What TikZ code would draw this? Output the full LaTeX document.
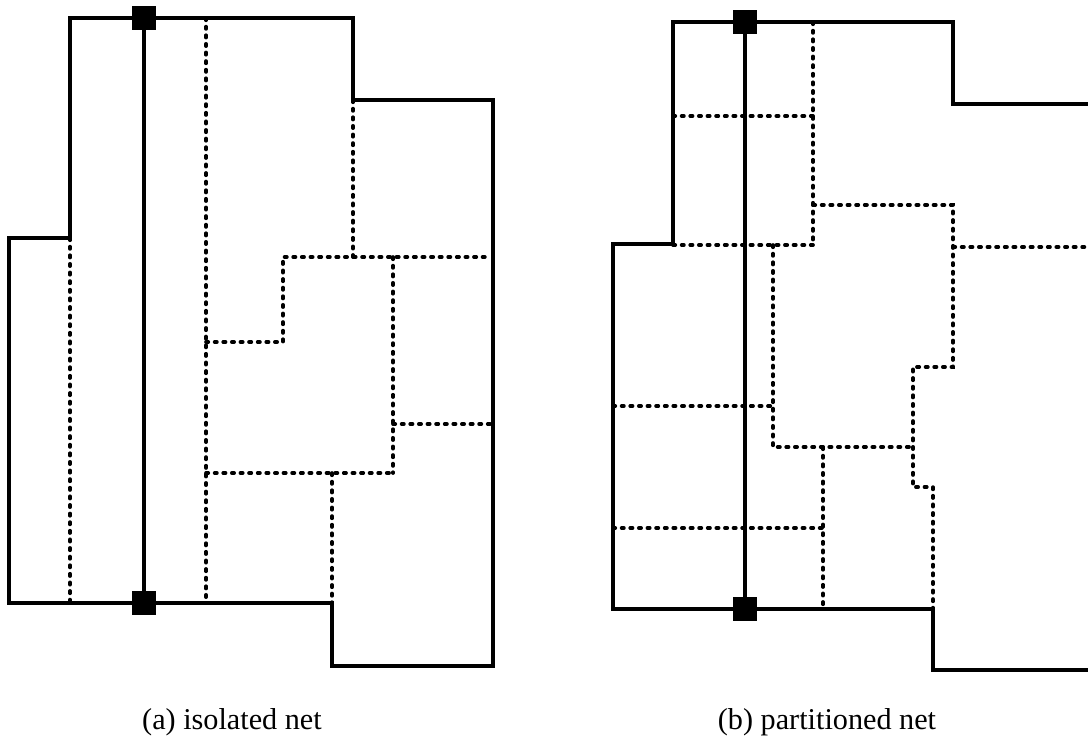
\documentclass[tikz,border=0pt]{standalone}
\usepackage{fontspec}
\setmainfont{Liberation Serif}
\usetikzlibrary{positioning}

\begin{document}
\begin{tikzpicture}[
  x=0.02cm, y=-0.02cm,
  wall/.style={line width=2.1pt, line join=miter},
  cut/.style={line width=2.1pt, line cap=round, dash pattern=on 1.3pt off 3.6pt},
  net/.style={line width=1.9pt},
  pin/.style={draw, fill=black, rectangle, minimum size=0.46cm, inner sep=0pt},
  lbl/.style={font=\fontsize{17.2}{20}\selectfont, align=center}
]
\clip (0,0) rectangle (1088,748);

% (a) region cuts
\draw[cut] (70,238) -- (70,602);
\draw[cut] (206,18) -- (206,603);
\draw[cut] (353,100) -- (353,257);
\draw[cut] (206,342) -- (283,342) -- (283,257) -- (490,257);
\draw[cut] (393,257) -- (393,473);
\draw[cut] (393,424) -- (493,424);
\draw[cut] (206,473) -- (393,473);
\draw[cut] (332,473) -- (332,604);

% (a) outline
\draw[wall] (70,18) -- (353,18) -- (353,100) -- (493,100) -- (493,666)
  -- (332,666) -- (332,603) -- (9,603) -- (9,238) -- (70,238) -- cycle;

% (a) net
\node[pin] (topa) at (144,18) {};
\node[pin] (bota) at (144,603) {};
\draw[net] (topa) -- (bota);
\node[lbl] (capa) at (232,722) {(a) isolated net};

% (b) region cuts
\draw[cut] (813,22) -- (813,245);
\draw[cut] (673,116) -- (813,116);
\draw[cut] (673,245) -- (813,245);
\draw[cut] (813,205) -- (953,205) -- (953,367) -- (913,367) -- (913,487)
  -- (933,487) -- (933,609);
\draw[cut] (953,247) -- (1088,247);
\draw[cut] (773,245) -- (773,447) -- (913,447);
\draw[cut] (613,406) -- (773,406);
\draw[cut] (823,447) -- (823,609);
\draw[cut] (613,528) -- (828,528);

% (b) outline, right side runs off the page
\draw[wall] (1100,104) -- (953,104) -- (953,22) -- (673,22) -- (673,244)
  -- (613,244) -- (613,609) -- (933,609) -- (933,670) -- (1100,670);

% (b) net
\node[pin] (topb) at (745,22) {};
\node[pin] (botb) at (745,609) {};
\draw[net] (topb) -- (botb);
\node[lbl] (capb) at (827,722) {(b) partitioned net};
\end{tikzpicture}
\end{document}
